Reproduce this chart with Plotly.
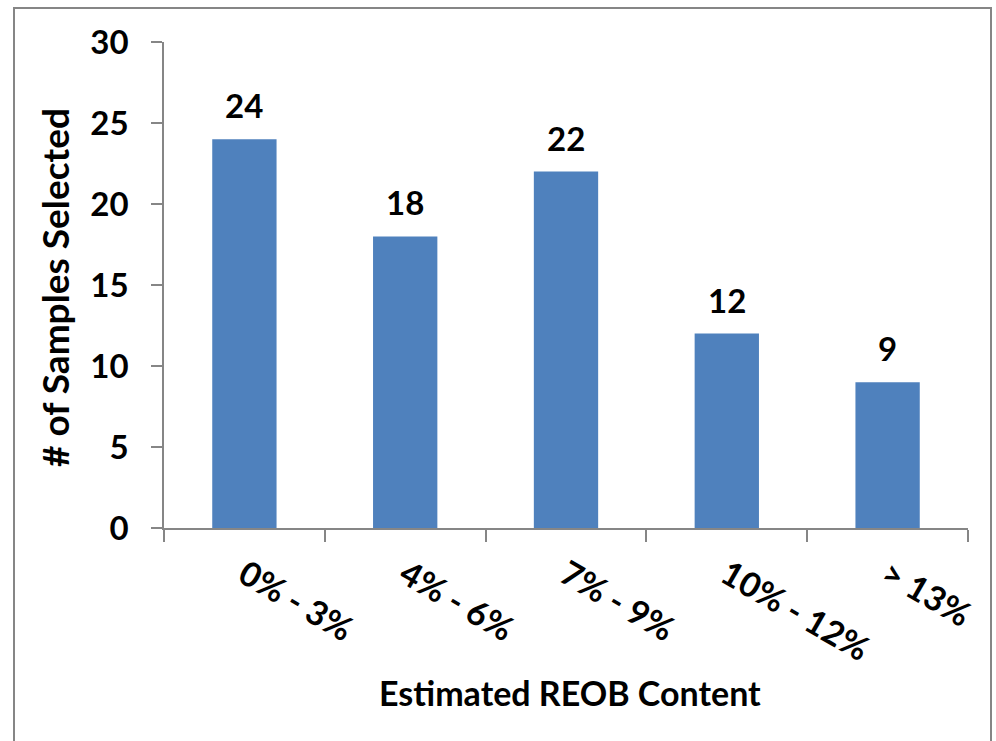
import plotly.graph_objects as go

# Sample counts by estimated REOB content bin
categories = ["0% - 3%", "4% - 6%", "7% - 9%", "10% - 12%", "> 13%"]
samples = [24, 18, 22, 12, 9]
y_ticks = [0, 5, 10, 15, 20, 25, 30]

FONT = "Lato"
BAR = "#4F81BD"
AXIS = "#868686"

W, H = 996, 741
L, R, T, B = 164, 28, 42, 213
pw, ph = W - L - R, H - T - B


def px_x(x):
    return (x - L) / pw


def px_y(y):
    return (H - B - y) / ph


fig = go.Figure(
    go.Bar(
        x=categories,
        y=samples,
        width=0.4,
        marker=dict(color=BAR, line=dict(width=0)),
        hoverinfo="skip",
    )
)

# value labels above each bar
for c, v in zip(categories, samples):
    fig.add_annotation(
        x=c, y=v, text=f"<b>{v}</b>", showarrow=False,
        yanchor="bottom", yshift=12,
        font=dict(family=FONT, size=33, color="black"),
    )

# axis titles
fig.add_annotation(
    x=px_x(570), y=px_y(692), xref="paper", yref="paper",
    text="<b>Estimated REOB Content</b>", showarrow=False,
    xanchor="center", yanchor="middle",
    font=dict(family=FONT, size=34, color="black"),
)
fig.add_annotation(
    x=px_x(54), y=px_y(288), xref="paper", yref="paper",
    text="<b># of Samples Selected</b>", showarrow=False, textangle=-90,
    xanchor="center", yanchor="middle",
    font=dict(family=FONT, size=37, color="black"),
)

# outer chart frame
fig.add_shape(
    type="rect", xref="paper", yref="paper",
    x0=px_x(14), x1=px_x(991), y0=px_y(760), y1=px_y(8),
    line=dict(color=AXIS, width=2), fillcolor="rgba(0,0,0,0)", layer="below",
)

fig.update_layout(
    width=W, height=H,
    margin=dict(l=L, r=R, t=T, b=B, pad=0),
    paper_bgcolor="white", plot_bgcolor="white",
    showlegend=False,
    xaxis=dict(
        type="category",
        showline=True, linecolor=AXIS, linewidth=1.5,
        ticks="outside", tickson="boundaries", ticklen=12,
        tickcolor=AXIS, tickwidth=1.5,
        tickangle=30,
        tickfont=dict(family=FONT, size=34, color="black", weight="bold"),
        ticklabelstandoff=12,
        showgrid=False, zeroline=False,
    ),
    yaxis=dict(
        range=[0, 30],
        tickvals=y_ticks,
        showline=True, linecolor=AXIS, linewidth=1.5,
        ticks="outside", ticklen=11, tickcolor=AXIS, tickwidth=1.5,
        tickfont=dict(family=FONT, size=33, color="black", weight="bold"),
        ticklabelstandoff=16,
        showgrid=False, zeroline=False,
    ),
)

fig.write_html("out.html")
